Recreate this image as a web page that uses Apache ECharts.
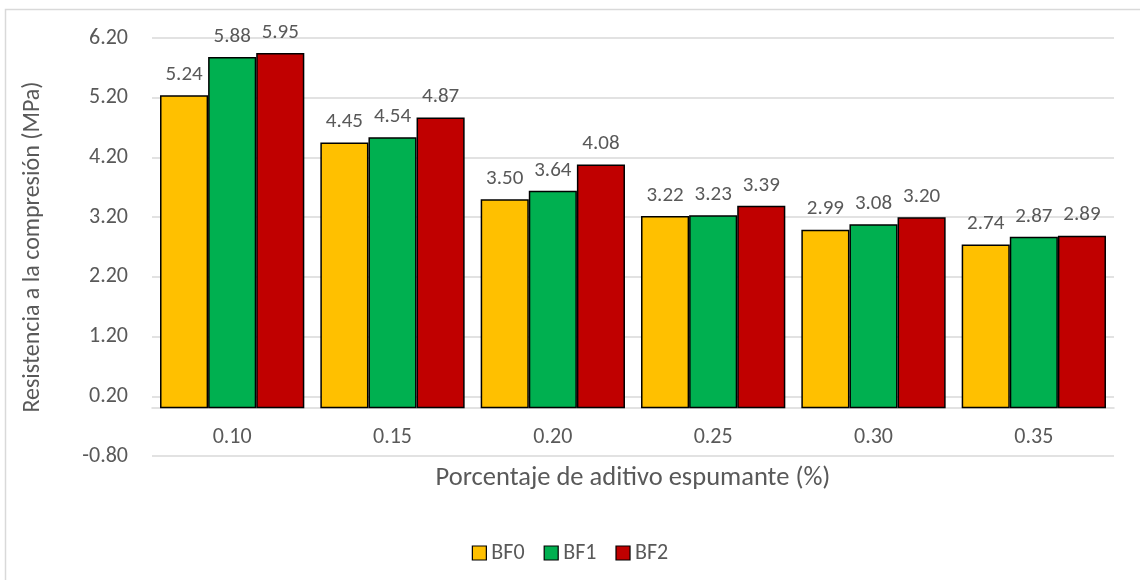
<!DOCTYPE html>
<html>
<head>
<meta charset="utf-8">
<script src="https://cdn.jsdelivr.net/npm/echarts@6/dist/echarts.min.js"></script>
<style>
  html, body { margin: 0; padding: 0; background: #fff; }
  #chart { width: 1140px; height: 580px; }
</style>
</head>
<body>
<div id="chart"></div>
<script>
// Compressive strength by foaming additive dosage
const categories = ['0.10', '0.15', '0.20', '0.25', '0.30', '0.35'];
const seriesNames = ['BF0', 'BF1', 'BF2'];
const bf0 = [5.24, 4.45, 3.50, 3.22, 2.99, 2.74];
const bf1 = [5.88, 4.54, 3.64, 3.23, 3.08, 2.87];
const bf2 = [5.95, 4.87, 4.08, 3.39, 3.20, 2.89];
const colors = ['#FFC000', '#00B050', '#C00000'];

const font = 'Calibri, Carlito, Lato, "Open Sans", sans-serif';
const textColor = '#595959';

const chart = echarts.init(document.getElementById('chart'), null, { renderer: 'canvas' });

function makeSeries(name, data, color) {
  return {
    name: name,
    type: 'bar',
    data: data,
    barGap: '0%',
    barCategoryGap: '10%',
    itemStyle: { color: color, borderColor: '#000', borderWidth: 1.5 },
    label: {
      show: true,
      position: 'top',
      distance: 10,
      formatter: p => p.value.toFixed(2),
      color: textColor,
      fontFamily: font,
      fontSize: 21
    }
  };
}

chart.setOption({
  animation: false,
  backgroundColor: '#fff',
  color: colors,
  graphic: [{
    type: 'rect',
    shape: { x: 5.5, y: 9.5, width: 1150, height: 600 },
    style: { fill: 'none', stroke: '#d9d9d9', lineWidth: 1.5 },
    silent: true
  }],
  grid: { left: 152, right: 26, top: 38, bottom: 124 },
  legend: {
    top: 537,
    left: 'center',
    itemWidth: 14,
    itemHeight: 14,
    itemGap: 19,
    icon: 'rect',
    itemStyle: { borderColor: '#000', borderWidth: 1.2 },
    textStyle: { color: textColor, fontFamily: font, fontSize: 22 },
    data: seriesNames
  },
  xAxis: {
    type: 'category',
    data: categories,
    name: 'Porcentaje de aditivo espumante (%)',
    nameLocation: 'middle',
    nameGap: 9,
    nameTextStyle: { color: textColor, fontFamily: font, fontSize: 26.5 },
    axisLine: { onZero: true, lineStyle: { color: '#d9d9d9', width: 1.5 } },
    axisTick: { show: false },
    axisLabel: { color: textColor, fontFamily: font, fontSize: 22, margin: -30 }
  },
  yAxis: {
    type: 'value',
    min: -0.8,
    max: 6.2,
    interval: 1,
    name: 'Resistencia a la compresión (MPa)',
    nameLocation: 'middle',
    nameGap: 107,
    nameRotate: 90,
    nameTextStyle: { color: textColor, fontFamily: font, fontSize: 24 },
    axisLine: { show: false },
    axisTick: { show: false },
    axisLabel: {
      color: textColor, fontFamily: font, fontSize: 22, margin: 24,
      formatter: v => v.toFixed(2)
    },
    splitLine: { lineStyle: { color: '#d9d9d9', width: 1.5 } }
  },
  series: [
    makeSeries(seriesNames[0], bf0, colors[0]),
    makeSeries(seriesNames[1], bf1, colors[1]),
    makeSeries(seriesNames[2], bf2, colors[2])
  ]
});
</script>
</body>
</html>
